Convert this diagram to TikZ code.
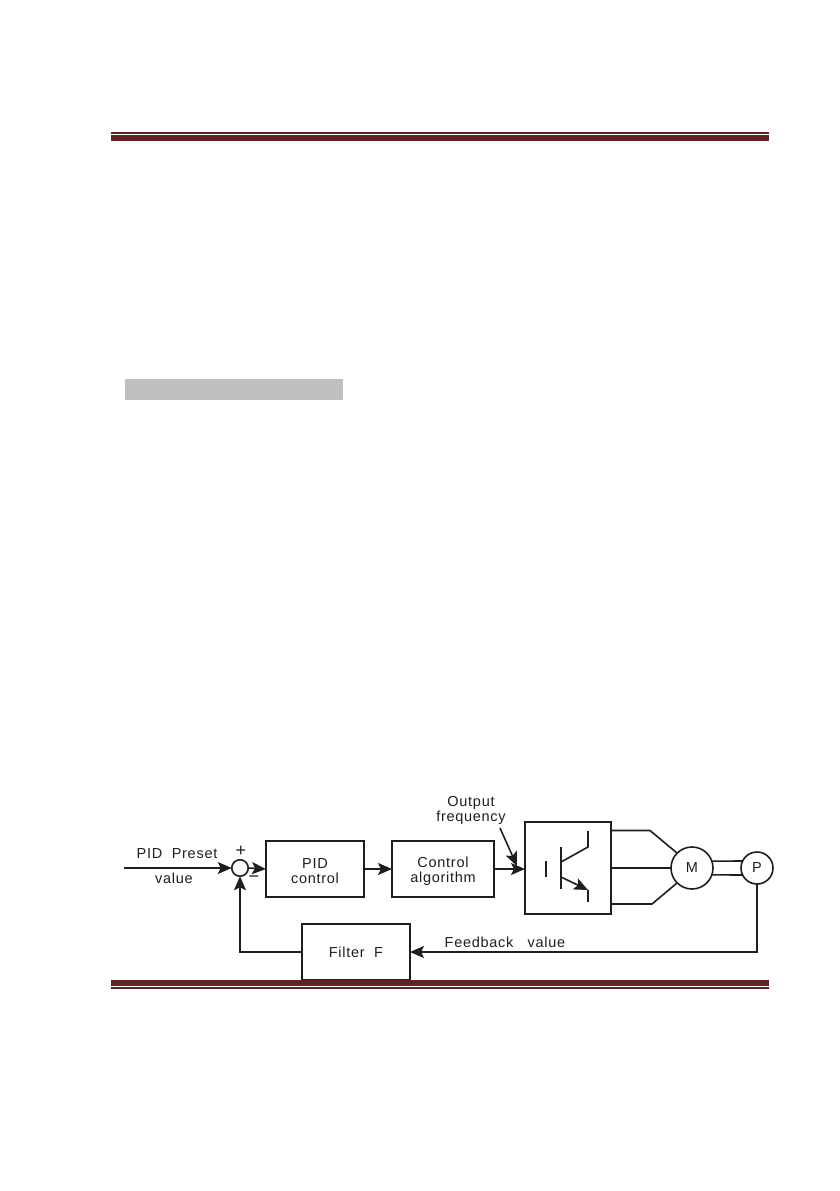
\documentclass[tikz,border=0pt]{standalone}
\usepackage{fontspec}
\setmainfont[LetterSpace=5]{Liberation Sans}
\usetikzlibrary{arrows.meta,positioning,calc}
\definecolor{Ink}{HTML}{1E1E1E}
\definecolor{Rule}{HTML}{5F2321}
\definecolor{Shade}{HTML}{BFBFBF}
\newcommand{\boxstrut}{\rule{0pt}{14.5pt}}

\begin{document}
\begin{tikzpicture}[x=1pt,y=-1pt,font=\fontsize{14.5}{15}\selectfont,>={Stealth[length=14pt,width=12pt,inset=3pt]},text=Ink,
 box/.style={draw=Ink,line width=1.6pt,fill=white,align=center,inner sep=0pt,outer sep=0pt,minimum height=56pt},
 ring/.style={circle,draw=Ink,line width=1.6pt,inner sep=0pt,outer sep=0pt},
 label/.style={align=center,inner sep=0pt},
 flow/.style={->,line width=1.6pt,draw=Ink},
 wire/.style={line width=1.6pt,draw=Ink},
 rulebar/.style={fill=Rule}]
 \useasboundingbox (0,0) rectangle (839,1191);
 \fill[Shade] (125,379) rectangle (343,400);
 % top rule
 \fill[rulebar] (111,132) rectangle (769,134);
 \fill[rulebar] (111,135) rectangle (769,141);
 % blocks
 \node[ring,minimum size=16.5pt] (sum) at (240,868) {};
 \node[box,minimum width=98pt] (pid) at (315,869) {\boxstrut PID\\control};
 \node[box,minimum width=102pt] (ctrl) at (443,869) {\boxstrut Control\\algorithm};
 \node[box,minimum width=86pt,minimum height=92pt] (inv) at (568,868) {};
 \node[ring,minimum size=42pt] (m) at (692,868) {M};
 \node[ring,minimum size=32pt] (p) at (757,868) {P};
 \node[box,minimum width=108pt] (filter) at (356,952) {Filter\ \ F};
 % labels
 \node[label] (preset) at (177,854) {PID\ \ Preset};
 \node[label] (val) at (174,878) {value};
 \node[label,font=\fontsize{18}{18}\selectfont] (plus) at (241,851) {+};
 \node[label,font=\fontsize{18}{18}\selectfont] (minus) at (254,879) {\textminus};
 \node[label] (freq) at (471,810) {Output\\frequency};
 \node[label] (fb) at (505,942) {Feedback\ \ \ value};
 \coordinate (start) at (124,868);
 \coordinate (tip) at (517,866);
 \coordinate (tail) at (500,828);
 % connectors
 \draw[flow] (start)--(sum.west);
 \draw[flow] (sum.east)--(pid.west);
 \draw[flow] (pid.east)--(ctrl.west);
 \draw[flow] (ctrl.east)--(ctrl.east-|inv.west);
 \draw[flow] (tail)--(tip);
 \draw[flow] (filter.west) -| (sum.south);
 \draw[flow] (p.south) |- (filter.east);
 % inverter outputs
 \draw[wire] ([yshift=37.5pt]inv.east) -- ++(39,0) -- (m.135);
 \draw[wire] (inv.east)--(m.west);
 \draw[wire] ([yshift=-36pt]inv.east) -- ++(41,0) -- (m.225);
 \draw[wire] (m.19.5)--(p.154);
 \draw[wire] (m.-19.5)--(p.-154);
 % transistor
 \coordinate (bartop) at (561,847);
 \coordinate (barend) at (561,889);
 \draw[wire] (546,861)--(546,877);
 \draw[wire] (bartop)--(barend);
 \draw[wire] (561,862)--(588,847)--(588,831);
 \draw[flow] (561,877)--(588,890);
 \draw[wire] (588,890)--(588,902);
 % bottom rule
 \fill[rulebar] (111,980) rectangle (769,986);
 \fill[rulebar] (111,987) rectangle (769,989);
\end{tikzpicture}
\end{document}
